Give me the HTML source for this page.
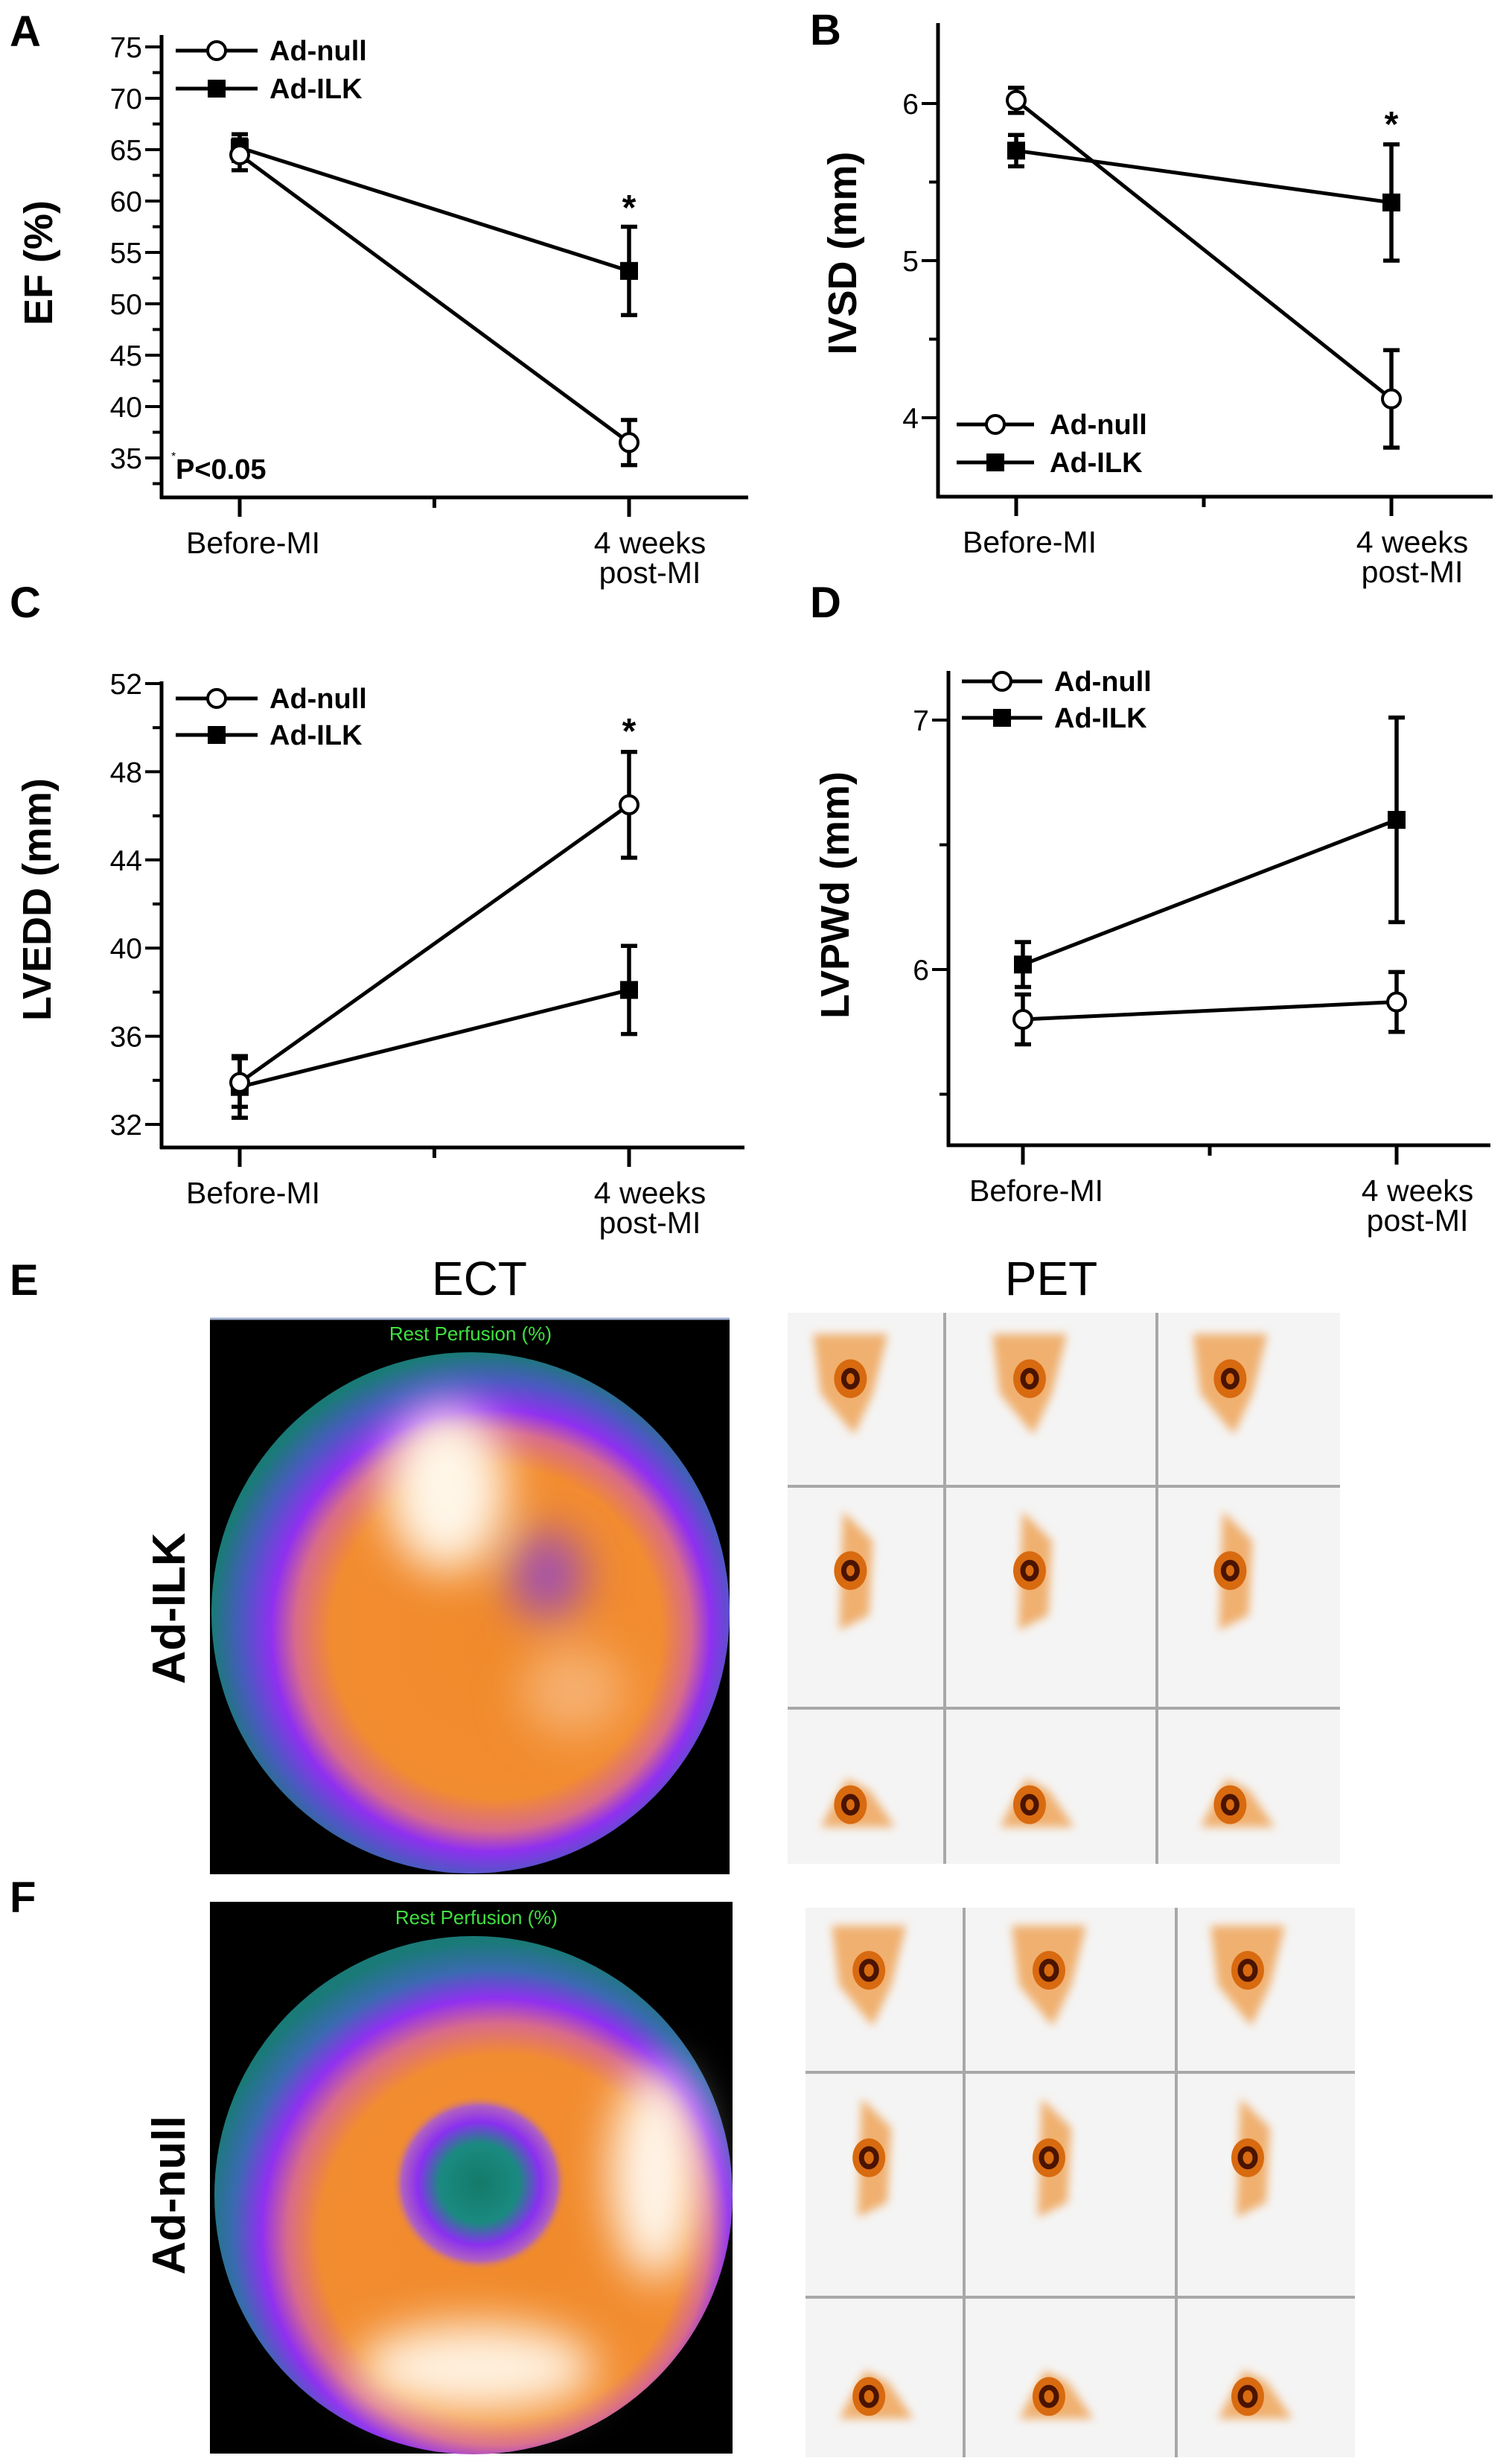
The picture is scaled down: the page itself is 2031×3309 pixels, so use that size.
<!DOCTYPE html>
<html><head><meta charset="utf-8"><style>
html,body{margin:0;padding:0;background:#fff;}
svg{display:block;font-family:"Liberation Sans",Arial,sans-serif;}
</style></head><body>
<svg id="fig" width="2031" height="3309" viewBox="0 0 2031 3309" xmlns="http://www.w3.org/2000/svg">
<defs>
<radialGradient id="ectA" cx="0.53" cy="0.53" r="0.53" fx="0.58" fy="0.55">
<stop offset="0" stop-color="#f08a2a"/><stop offset="0.6" stop-color="#f28c30"/><stop offset="0.72" stop-color="#d86a8a"/><stop offset="0.8" stop-color="#9030f0"/><stop offset="0.9" stop-color="#4a5ac0"/><stop offset="1" stop-color="#1a7a78"/>
</radialGradient>
<radialGradient id="ectB" cx="0.53" cy="0.56" r="0.55" fx="0.6" fy="0.62">
<stop offset="0" stop-color="#f08a2a"/><stop offset="0.64" stop-color="#f28c30"/><stop offset="0.74" stop-color="#d86a8a"/><stop offset="0.82" stop-color="#9030f0"/><stop offset="0.91" stop-color="#3a6ab0"/><stop offset="1" stop-color="#1a7a78"/>
</radialGradient>
<radialGradient id="hole" cx="0.5" cy="0.5" r="0.5">
<stop offset="0" stop-color="#147a6a"/><stop offset="0.45" stop-color="#1a8a80"/><stop offset="0.7" stop-color="#8a30f0"/><stop offset="0.88" stop-color="#b060c0"/><stop offset="1" stop-color="#f28c30" stop-opacity="0"/>
</radialGradient>
<filter id="blur" x="-50%" y="-50%" width="200%" height="200%"><feGaussianBlur stdDeviation="30"/></filter>
<filter id="blur2" x="-50%" y="-50%" width="200%" height="200%"><feGaussianBlur stdDeviation="6"/></filter>
</defs>
<g id="charts"></g>
<g id="images">
<text x="13" y="1739" font-size="58" font-weight="bold">E</text>
<text x="644" y="1739" font-size="64" text-anchor="middle">ECT</text>
<text x="1412" y="1739" font-size="64" text-anchor="middle">PET</text>
<text x="13" y="2568" font-size="58" font-weight="bold">F</text>
<text transform="translate(248,2160) rotate(-90)" font-size="62" font-weight="bold" text-anchor="middle">Ad-ILK</text>
<text transform="translate(248,2948) rotate(-90)" font-size="62" font-weight="bold" text-anchor="middle">Ad-null</text>

<g>
<rect x="282" y="1770" width="698" height="747" fill="#000"/>
<line x1="282" y1="1771" x2="980" y2="1771" stroke="#a0b0d0" stroke-width="3"/>
<ellipse cx="632" cy="2166" rx="348" ry="350" fill="url(#ectA)"/>
<g filter="url(#blur)">
<ellipse cx="600" cy="2000" rx="80" ry="110" fill="#fff6e8"/>
<ellipse cx="735" cy="2115" rx="50" ry="60" fill="#a050b0"/>
<ellipse cx="770" cy="2270" rx="70" ry="60" fill="#f6b070"/>
</g>
<text x="632" y="1800" font-size="26" fill="#40e040" text-anchor="middle">Rest Perfusion (%)</text>
</g>
<g>
<rect x="282" y="2554" width="702" height="741" fill="#000"/>
<ellipse cx="636" cy="2948" rx="348" ry="348" fill="url(#ectB)"/>
<g filter="url(#blur)">
<ellipse cx="880" cy="2920" rx="60" ry="140" fill="#fff6ea"/>
<ellipse cx="640" cy="3180" rx="160" ry="60" fill="#fff2e0"/>
</g>
<ellipse cx="644" cy="2932" rx="118" ry="118" fill="url(#hole)"/>
<text x="640" y="2584" font-size="26" fill="#40e040" text-anchor="middle">Rest Perfusion (%)</text>
</g>
<g id="petE"></g>
<g id="petF"></g>
</g>
</svg>
<script>
// ---- Panel A: EF (%)
const categories = ["Before-MI", "4 weeks|post-MI"];
const efNull = [64.5, 36.5];
const efNullErr = [1.5, 2.2];
const efIlk = [65.2, 53.2];
const efIlkErr = [1.3, 4.3];
const efTicks = [35, 40, 45, 50, 55, 60, 65, 70, 75];
// ---- Panel B: IVSD (mm)
const ivsdNull = [6.02, 4.12];
const ivsdNullErr = [0.08, 0.31];
const ivsdIlk = [5.7, 5.37];
const ivsdIlkErr = [0.1, 0.37];
const ivsdTicks = [4, 5, 6];
// ---- Panel C: LVEDD (mm)
const lveddNull = [33.9, 46.5];
const lveddNullErr = [1.1, 2.4];
const lveddIlk = [33.7, 38.1];
const lveddIlkErr = [1.4, 2.0];
const lveddTicks = [32, 36, 40, 44, 48, 52];
// ---- Panel D: LVPWd (mm)
const lvpwdNull = [5.8, 5.87];
const lvpwdNullErr = [0.1, 0.12];
const lvpwdIlk = [6.02, 6.6];
const lvpwdIlkErr = [0.09, 0.41];
const lvpwdTicks = [6, 7];

const NS = "http://www.w3.org/2000/svg";
function mk(tag, attrs, parent, txt) {
  const e = document.createElementNS(NS, tag);
  for (const k in attrs) e.setAttribute(k, attrs[k]);
  if (txt !== undefined) e.textContent = txt;
  parent.appendChild(e);
  return e;
}
const root = document.getElementById("charts");

function panel(cfg) {
  const g = mk("g", {}, root);
  
  
  const y = v => cfg.y0 + (v - cfg.v0) * (cfg.y1 - cfg.y0) / (cfg.v1 - cfg.v0);
  const xs = cfg.cx;
  const ya = mk("line", {x1: cfg.ax, y1: cfg.top, x2: cfg.ax, y2: cfg.bottom + 2, stroke: "#000", "stroke-width": 5}, g);
  
  
  const xa = mk("line", {x1: cfg.ax - 2, y1: cfg.bottom, x2: cfg.right, y2: cfg.bottom, stroke: "#000", "stroke-width": 5}, g);
  
  
  cfg.ticks.forEach(t => {
    mk("line", {x1: cfg.ax - 22, y1: y(t), x2: cfg.ax, y2: y(t), stroke: "#000", "stroke-width": 4}, g);
    const tl = mk("text", {x: cfg.ax - 26, y: y(t) + 14, "font-size": 39, "text-anchor": "end"}, g, String(t));
    
    
  });
  cfg.minor.forEach(t => {
    mk("line", {x1: cfg.ax - 12, y1: y(t), x2: cfg.ax, y2: y(t), stroke: "#000", "stroke-width": 4}, g);
  });
  xs.forEach(x => mk("line", {x1: x, y1: cfg.bottom, x2: x, y2: cfg.bottom + 26, stroke: "#000", "stroke-width": 5}, g));
  mk("line", {x1: (xs[0] + xs[1]) / 2, y1: cfg.bottom, x2: (xs[0] + xs[1]) / 2, y2: cfg.bottom + 14, stroke: "#000", "stroke-width": 5}, g);
  categories.forEach((c, i) => {
    const parts = c.split("|");
    parts.forEach((p, j) => {
      const t = mk("text", {x: xs[i] + (i === 0 ? 18 : 28), y: cfg.bottom + 75 + j * 40, "font-size": 41, "text-anchor": "middle"}, g, p);
      
      
    });
  });
  const yt = mk("text", {transform: `translate(${cfg.titleX},${cfg.titleY}) rotate(-90)`, "font-size": 54, "font-weight": "bold", "text-anchor": "middle", "dominant-baseline": "central"}, g, cfg.title);
  
  
  const pl = mk("text", {x: cfg.lx, y: cfg.ly, "font-size": 58, "font-weight": "bold"}, g, cfg.letter);
  
  
  [[cfg.ilk, cfg.ilkErr, "sq"], [cfg.nul, cfg.nulErr, "ci"]].forEach(([vals, errs, m]) => {
    const s = mk("g", {}, g);
    
    
    mk("line", {x1: xs[0], y1: y(vals[0]), x2: xs[1], y2: y(vals[1]), stroke: "#000", "stroke-width": 5}, s);
    vals.forEach((v, i) => {
      const hi = y(v + errs[i]), lo = y(v - errs[i]);
      mk("line", {x1: xs[i], y1: hi, x2: xs[i], y2: lo, stroke: "#000", "stroke-width": 5.5}, s);
      mk("line", {x1: xs[i] - 11, y1: hi, x2: xs[i] + 11, y2: hi, stroke: "#000", "stroke-width": 5.5}, s);
      mk("line", {x1: xs[i] - 11, y1: lo, x2: xs[i] + 11, y2: lo, stroke: "#000", "stroke-width": 5.5}, s);
      let p;
      if (m === "sq") p = mk("rect", {x: xs[i] - 12, y: y(v) - 12, width: 24, height: 24, fill: "#000"}, s);
      else p = mk("circle", {cx: xs[i], cy: y(v), r: 12, fill: "#fff", stroke: "#000", "stroke-width": 4}, s);
      
      
    });
  });
  if (cfg.star) {
    const st = mk("text", {x: cfg.star[0], y: cfg.star[1], "font-size": 48, "font-weight": "bold", "text-anchor": "middle"}, g, "*");
    
    
  }
  const lg = mk("g", {}, g);
  
  
  const L = cfg.leg;
  [["ci", "Ad-null", L.y1], ["sq", "Ad-ILK", L.y2]].forEach(([m, lab, yy]) => {
    mk("line", {x1: L.x1, y1: yy, x2: L.x2, y2: yy, stroke: "#000", "stroke-width": 5}, lg);
    const mx = (L.x1 + L.x2) / 2;
    if (m === "sq") mk("rect", {x: mx - 12, y: yy - 12, width: 24, height: 24, fill: "#000"}, lg);
    else mk("circle", {cx: mx, cy: yy, r: 12, fill: "#fff", stroke: "#000", "stroke-width": 4}, lg);
    const t = mk("text", {x: L.tx, y: yy + 13, "font-size": 38, "font-weight": "bold"}, lg, lab);
    
    
  });
  return g;
}

const gA = panel({name: "chart-ef", letter: "A", lx: 13, ly: 62, title: "EF (%)", titleX: 52, titleY: 353,
  ax: 217, top: 47, bottom: 668, right: 1005, cx: [322, 845], v0: 75, y0: 63, v1: 35, y1: 615,
  ticks: efTicks, minor: [72.5, 67.5, 62.5, 57.5, 52.5, 47.5, 42.5, 37.5, 32.5],
  nul: efNull, nulErr: efNullErr, ilk: efIlk, ilkErr: efIlkErr, star: [845, 295],
  leg: {x1: 236, x2: 346, y1: 68, y2: 119, tx: 362}});
const pv = mk("text", {x: 236, y: 643, "font-size": 38, "font-weight": "bold"}, gA, "P<0.05");


mk("text", {x: 230, y: 618, "font-size": 16}, gA, "*");

panel({name: "chart-ivsd", letter: "B", lx: 1088, ly: 60, title: "IVSD (mm)", titleX: 1132, titleY: 340,
  ax: 1260, top: 31, bottom: 667, right: 2005, cx: [1365, 1869], v0: 6, y0: 139, v1: 4, y1: 561,
  ticks: ivsdTicks, minor: [5.5, 4.5],
  nul: ivsdNull, nulErr: ivsdNullErr, ilk: ivsdIlk, ilkErr: ivsdIlkErr, star: [1869, 183],
  leg: {x1: 1285, x2: 1389, y1: 570, y2: 621, tx: 1410}});

panel({name: "chart-lvedd", letter: "C", lx: 13, ly: 829, title: "LVEDD (mm)", titleX: 50, titleY: 1208,
  ax: 217, top: 915, bottom: 1541, right: 1000, cx: [322, 845], v0: 52, y0: 918, v1: 32, y1: 1510,
  ticks: lveddTicks, minor: [50, 46, 42, 38, 34],
  nul: lveddNull, nulErr: lveddNullErr, ilk: lveddIlk, ilkErr: lveddIlkErr, star: [845, 998],
  leg: {x1: 236, x2: 346, y1: 938, y2: 987, tx: 362}});

panel({name: "chart-lvpwd", letter: "D", lx: 1088, ly: 829, title: "LVPWd (mm)", titleX: 1122, titleY: 1202,
  ax: 1274, top: 901, bottom: 1538, right: 2002, cx: [1374, 1876], v0: 7, y0: 967, v1: 6, y1: 1302,
  ticks: lvpwdTicks, minor: [6.5, 5.5],
  nul: lvpwdNull, nulErr: lvpwdNullErr, ilk: lvpwdIlk, ilkErr: lvpwdIlkErr, star: null,
  leg: {x1: 1292, x2: 1400, y1: 915, y2: 964, tx: 1416}});

function pet(id, x0, y0, x1, y1, vx, hy, ring) {
  const g = document.getElementById(id);
  mk("rect", {x: x0, y: y0, width: x1 - x0, height: y1 - y0, fill: "#f4f4f4"}, g);
  vx.forEach(x => mk("line", {x1: x, y1: y0, x2: x, y2: y1, stroke: "#a8a8a8", "stroke-width": 4}, g));
  hy.forEach(y => mk("line", {x1: x0, y1: y, x2: x1, y2: y, stroke: "#a8a8a8", "stroke-width": 4}, g));
  const colsX = [x0, vx[0], vx[1], x1], rowsY = [y0, hy[0], hy[1], y1];
  for (let r = 0; r < 3; r++) for (let c = 0; c < 3; c++) {
    const cx = colsX[c] + (colsX[c + 1] - colsX[c]) * 0.4;
    const cy = rowsY[r] + (rowsY[r + 1] - rowsY[r]) * (r === 2 ? 0.62 : 0.38);
    const cell = mk("g", {}, g);
    
    
    if (r === 0) mk("path", {d: `M${cx-50},${cy-60} L${cx+50},${cy-60} L${cx+30},${cy+20} L${cx+5},${cy+75} L${cx-40},${cy+20} Z`, fill: "#f0b070", filter: "url(#blur2)"}, cell);
    else if (r === 1) mk("path", {d: `M${cx-10},${cy-80} L${cx+30},${cy-40} L${cx+25},${cy+60} L${cx-15},${cy+80} Z`, fill: "#f0b070", filter: "url(#blur2)"}, cell);
    else mk("path", {d: `M${cx-40},${cy+30} L${cx-5},${cy-35} L${cx+25},${cy-20} L${cx+60},${cy+30} Z`, fill: "#f0b070", filter: "url(#blur2)"}, cell);
    mk("ellipse", {cx: cx, cy: cy, rx: 22, ry: 26, fill: "#d86a10"}, cell);
    mk("ellipse", {cx: cx, cy: cy, rx: ring, ry: ring + 2, fill: "none", stroke: "#4a1400", "stroke-width": 7}, cell);
  }
}
pet("petE", 1058, 1763, 1800, 2503, [1269, 1554], [1996, 2294], 9);
pet("petF", 1082, 2562, 1820, 3300, [1295, 1580], [2783, 3085], 10);
</script>
</body></html>
